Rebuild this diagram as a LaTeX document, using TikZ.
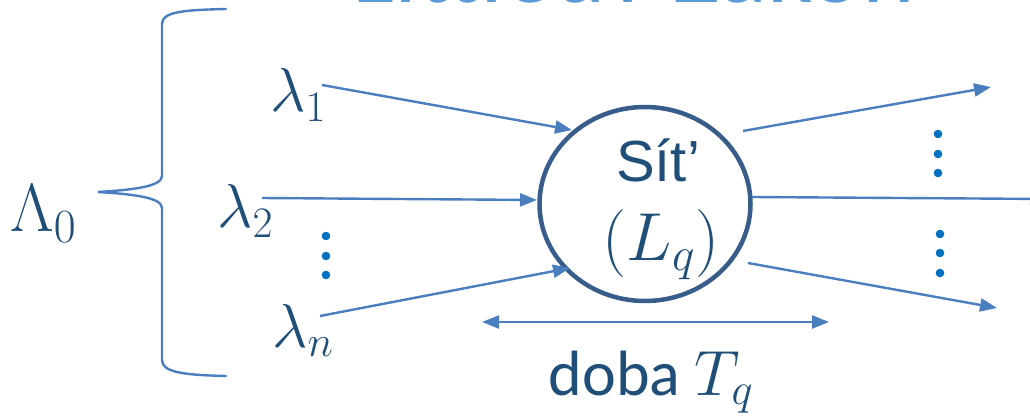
\documentclass[tikz,border=0pt]{standalone}
\usepackage{fix-cm}
\usepackage{fontspec}
\setmainfont{Carlito}
\newfontfamily\arialish{Liberation Sans}
\usetikzlibrary{arrows.meta,shapes.geometric}
\definecolor{txt}{HTML}{1F4E79}
\definecolor{arr}{HTML}{4A7EBF}
\definecolor{ell}{HTML}{385D8A}
\definecolor{dotc}{HTML}{0070C0}
\definecolor{ttl}{HTML}{5B9BD5}
\tikzset{
  flow/.style={draw=arr, line width=2.4pt, -{Triangle[length=17pt,width=13pt]}},
  twoway/.style={draw=arr, line width=2.4pt, {Triangle[length=17pt,width=13pt]}-{Triangle[length=17pt,width=13pt]}},
  lab/.style={text=txt, inner sep=0pt, anchor=base west},
  dotmark/.style={fill=dotc, draw=none},
}
\begin{document}
\begin{tikzpicture}[x=1pt,y=-1pt]
\useasboundingbox (0,0) rectangle (1030,419);
\clip (0,0) rectangle (1030,419);
% title (cut off at top)
\node[text=ttl, inner sep=0pt, anchor=base west, font=\fontsize{100}{100}\selectfont] (title) at (352,3) {Littleův Zákon};
% network ellipse
\node[draw=ell, line width=4.5pt, ellipse, minimum width=211pt, minimum height=194pt, inner sep=0pt] (net) at (645,204) {};
\node[text=txt, inner sep=0pt, anchor=base, font=\arialish\fontsize{58}{58}\selectfont] (sit) at (658,182) {Sít’};
\node[text=txt, inner sep=0pt, font=\fontsize{68}{68}\selectfont] (lq) at (661,245) {$(L_q)$};
% labels
\node[lab, font=\fontsize{68}{68}\selectfont] (Lam) at (10,232) {$\Lambda_0$};
\node[lab, font=\fontsize{62}{62}\selectfont] (l1) at (270,112) {$\lambda_1$};
\node[lab, font=\fontsize{62}{62}\selectfont] (l2) at (217,228) {$\lambda_2$};
\node[lab, font=\fontsize{62}{62}\selectfont] (ln) at (272,347) {$\lambda_n$};
\node[text=txt, inner sep=0pt, anchor=base, font=\fontsize{64}{64}\selectfont] (doba) at (651,395) {doba $T_q$};
% brace
\draw[draw=arr, line width=2.4pt, line cap=round] (226,9) .. controls (182,10) and (162,12) .. (162,24) -- (162,176)
  .. controls (162,187) and (130,190) .. (98,192)
  .. controls (130,194) and (162,197) .. (162,208) -- (162,360)
  .. controls (162,372) and (182,375) .. (226,376);
% connector end points
\coordinate (s1) at (322,85);
\coordinate (e1) at (572,130);
\coordinate (s2) at (262,198);
\coordinate (e2) at (537,200);
\coordinate (s3) at (320,316);
\coordinate (e3) at (570,268);
\coordinate (o1s) at (743,131);
\coordinate (o1e) at (991,87);
\coordinate (o2s) at (752,197);
\coordinate (o2e) at (1047,199);
\coordinate (o3s) at (748,263);
\coordinate (o3e) at (997,308);
\coordinate (tl) at (482,322);
\coordinate (tr) at (829,322);
\draw[flow] (s1) -- (e1);
\draw[flow] (s2) -- (e2);
\draw[flow] (s3) -- (e3);
\draw[flow] (o1s) -- (o1e);
\draw[flow] (o2s) -- (o2e);
\draw[flow] (o3s) -- (o3e);
\draw[twoway] (tl) -- (tr);
% dots
\foreach \y in {236,256,275} \fill[dotmark] (326,\y) circle (4.3pt);
\foreach \y in {134,154,173} \fill[dotmark] (938,\y) circle (4.3pt);
\foreach \y in {234,253,273} \fill[dotmark] (940,\y) circle (4.3pt);
\end{tikzpicture}
\end{document}
